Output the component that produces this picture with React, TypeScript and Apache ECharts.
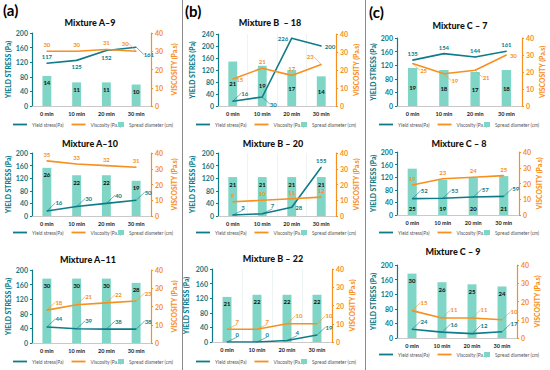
import { useEffect, useRef } from 'react';
import * as echarts from 'echarts';

const TIMES = ['0 min', '10 min', '20 min', '30 min'];
const NAME_YIELD = 'Yield stress(Pa)';
const NAME_VISC = 'Viscosity (Pa.s)';
const NAME_SPREAD = 'Spread diameter (cm)';

const A9_YIELD = [117, 125, 152, 161];
const A9_VISC = [30, 30, 31, 30];
const A9_SPREAD = [14, 11, 11, 10];

const A10_YIELD = [16, 30, 40, 50];
const A10_VISC = [35, 33, 32, 31];
const A10_SPREAD = [26, 22, 22, 19];

const A11_YIELD = [44, 39, 38, 38];
const A11_VISC = [18, 21, 22, 23];
const A11_SPREAD = [30, 30, 30, 28];

const B18_YIELD = [16, 30, 226, 200];
const B18_VISC = [15, 21, 17, 23];
const B18_SPREAD = [21, 19, 17, 14];

const B20_YIELD = [3, 7, 28, 155];
const B20_VISC = [9, 10, 11, 12];
const B20_SPREAD = [21, 21, 21, 21];

const B22_YIELD = [0, 0, 4, 19];
const B22_VISC = [7, 7, 10, 10];
const B22_SPREAD = [21, 22, 22, 22];

const C7_YIELD = [135, 154, 144, 161];
const C7_VISC = [25, 19, 21, 30];
const C7_SPREAD = [19, 18, 17, 18];

const C8_YIELD = [52, 53, 57, 59];
const C8_VISC = [19, 23, 24, 25];
const C8_SPREAD = [25, 19, 20, 21];

const C9_YIELD = [24, 16, 12, 17];
const C9_VISC = [15, 11, 11, 10];
const C9_SPREAD = [30, 26, 25, 24];

const VISC_MAX = 40;
const SPREAD_AXIS_MAX = 34;

const TEAL = '#0f7b88';
const ORANGE = '#f7901e';
const BAR = '#80d6c6';
const FONT = 'Lato, "Open Sans", sans-serif';

type Mode = 't' | 'b' | 'r' | 'l' | 'ur' | 'dr' | 'ul';
const LAB: Record<Mode, { position: string; dx: number; dy: number; line: boolean }> = {
  t: { position: 'top', dx: 0, dy: 0, line: false },
  b: { position: 'bottom', dx: 0, dy: 0, line: false },
  r: { position: 'right', dx: 0, dy: 0, line: false },
  l: { position: 'left', dx: 0, dy: 0, line: false },
  ur: { position: 'right', dx: 5, dy: -8, line: true },
  dr: { position: 'right', dx: 4, dy: 7, line: true },
  ul: { position: 'left', dx: -4, dy: -8, line: true },
};

type Panel = {
  title: string; yv: number[]; vv: number[]; sv: number[]; yMax: number;
  g: [number, number, number, number]; tx: number; ty: number;
  lx: number; ly: number; yl: Mode[]; vl: Mode[]; bp: string; col: number;
};

const PANELS: Panel[] = [
  { title: 'Mixture A–9', yv: A9_YIELD, vv: A9_VISC, sv: A9_SPREAD, yMax: 200, g: [32, 33, 119, 73], tx: 90, ty: 18, lx: 13, ly: 125, yl: ['t', 'b', 'b', 'dr'], vl: ['t', 't', 't', 'ul'], bp: 'insideTop', col: 0 },
  { title: 'Mixture A–10', yv: A10_YIELD, vv: A10_VISC, sv: A10_SPREAD, yMax: 200, g: [32, 153, 119, 63], tx: 90, ty: 139, lx: 13, ly: 233, yl: ['ur', 'ur', 'ur', 'ur'], vl: ['t', 't', 't', 't'], bp: 'insideTop', col: 0 },
  { title: 'Mixture A–11', yv: A11_YIELD, vv: A11_VISC, sv: A11_SPREAD, yMax: 200, g: [32, 270, 119, 73], tx: 88, ty: 255, lx: 13, ly: 362, yl: ['ur', 'ur', 'ur', 'ur'], vl: ['ur', 'ur', 'ur', 'ur'], bp: 'insideTop', col: 0 },
  { title: 'Mixture B  – 18', yv: B18_YIELD, vv: B18_VISC, sv: B18_SPREAD, yMax: 240, g: [218, 34, 118, 72], tx: 270, ty: 18, lx: 196, ly: 125, yl: ['ur', 'dr', 'l', 'r'], vl: ['r', 't', 't', 'ul'], bp: 'inside', col: 1 },
  { title: 'Mixture B – 20', yv: B20_YIELD, vv: B20_VISC, sv: B20_SPREAD, yMax: 200, g: [218, 153, 118, 63], tx: 273, ty: 139, lx: 196, ly: 233, yl: ['ur', 'ur', 'r', 't'], vl: ['t', 't', 't', 't'], bp: 'insideTop', col: 1 },
  { title: 'Mixture B – 22', yv: B22_YIELD, vv: B22_VISC, sv: B22_SPREAD, yMax: 200, g: [212, 269, 120, 73], tx: 273, ty: 254, lx: 196, ly: 362, yl: ['ur', 'ur', 'ur', 'ur'], vl: ['ur', 'ur', 'ur', 'ur'], bp: 'insideTop', col: 1 },
  { title: 'Mixture C – 7', yv: C7_YIELD, vv: C7_VISC, sv: C7_SPREAD, yMax: 200, g: [397, 38, 125, 68], tx: 460, ty: 21, lx: 379, ly: 125, yl: ['t', 't', 't', 't'], vl: ['dr', 'dr', 'dr', 'r'], bp: 'inside', col: 2 },
  { title: 'Mixture C – 8', yv: C8_YIELD, vv: C8_VISC, sv: C8_SPREAD, yMax: 200, g: [397, 152, 122, 63], tx: 459, ty: 139, lx: 379, ly: 233, yl: ['ur', 'ur', 'ur', 'ur'], vl: ['t', 't', 't', 't'], bp: 'insideBottom', col: 2 },
  { title: 'Mixture C – 9', yv: C9_YIELD, vv: C9_VISC, sv: C9_SPREAD, yMax: 200, g: [397, 265, 120, 73], tx: 453, ty: 247, lx: 379, ly: 355, yl: ['ur', 'ur', 'ur', 'ur'], vl: ['ur', 'ur', 'ur', 'ur'], bp: 'insideTop', col: 2 },
];

function lineSeries(name: string, vals: number[], modes: Mode[], color: string, xi: number, yi: number) {
  return {
    type: 'line', name, xAxisIndex: xi, yAxisIndex: yi,
    symbol: 'circle', symbolSize: 1, showSymbol: true,
    lineStyle: { color, width: 1.6 }, itemStyle: { color },
    data: vals.map((v, k) => ({
      value: v,
      label: { position: LAB[modes[k]].position },
      labelLine: { show: LAB[modes[k]].line },
    })),
    label: { show: true, color, fontSize: 6, fontWeight: 'bold', fontFamily: FONT, distance: 3 },
    labelLine: { show: false, lineStyle: { color, width: 0.6 } },
    labelLayout: (p: any) => ({ dx: LAB[modes[p.dataIndex]].dx, dy: LAB[modes[p.dataIndex]].dy }),
    z: 3,
  };
}

function buildOption() {
  const grid: any[] = [], xAxis: any[] = [], yAxis: any[] = [], series: any[] = [], title: any[] = [], legend: any[] = [];
  PANELS.forEach((p, i) => {
    grid.push({ left: p.g[0], top: p.g[1], width: p.g[2], height: p.g[3] });
    title.push({ text: p.title, left: p.tx, top: p.ty, textAlign: 'center', textStyle: { fontSize: 9, fontWeight: 900, color: '#111', fontFamily: FONT }, padding: 0 });
    xAxis.push({
      type: 'category', gridIndex: i, data: TIMES,
      axisTick: { show: false },
      axisLine: { lineStyle: { color: '#bbb', width: 0.8 } },
      axisLabel: { fontSize: 5.5, fontWeight: 'bold', color: '#222', margin: 5, fontFamily: FONT },
      splitLine: { show: p.col === 1, lineStyle: { color: '#e3eced', width: 0.6 } },
    });
    const leftGap = p.col === 0 ? 21 : p.col === 1 ? 23 : 21;
    const rightGap = p.col === 0 ? 19 : 16;
    yAxis.push({
      type: 'value', gridIndex: i, min: 0, max: p.yMax, interval: 40, position: 'left',
      name: 'YIELD STRESS (Pa)', nameLocation: 'middle', nameGap: leftGap, nameRotate: 90,
      nameTextStyle: { color: TEAL, fontSize: 6.8, fontWeight: 900, fontFamily: FONT },
      axisLine: { show: true, lineStyle: { color: TEAL, width: 1.2 } },
      axisTick: { show: true, length: 2, lineStyle: { color: TEAL } },
      axisLabel: { color: TEAL, fontSize: 7, fontWeight: 'bold', margin: 4, fontFamily: FONT },
      splitLine: { show: false },
    });
    yAxis.push({
      type: 'value', gridIndex: i, min: 0, max: VISC_MAX, interval: 10, position: 'right',
      name: 'VISCOSITY (Pa.s)', nameLocation: 'middle', nameGap: rightGap, nameRotate: 90,
      nameTextStyle: { color: ORANGE, fontSize: 6.8, fontWeight: 900, fontFamily: FONT },
      axisLine: { show: true, lineStyle: { color: ORANGE, width: 1.2 } },
      axisTick: { show: true, length: 2, lineStyle: { color: ORANGE } },
      axisLabel: { color: ORANGE, fontSize: 7, fontWeight: 'bold', margin: 4, fontFamily: FONT },
      splitLine: { show: false },
    });
    yAxis.push({ type: 'value', gridIndex: i, min: 0, max: SPREAD_AXIS_MAX, show: false, splitLine: { show: false } });

    series.push({
      type: 'bar', name: NAME_SPREAD, xAxisIndex: i, yAxisIndex: 3 * i + 2, data: p.sv,
      barWidth: '30%', itemStyle: { color: BAR }, z: 1,
      label: { show: true, position: p.bp, color: '#111', fontWeight: 'bold', fontSize: 6, fontFamily: FONT, distance: 4 },
    });
    series.push(lineSeries(NAME_YIELD, p.yv, p.yl, TEAL, i, 3 * i));
    series.push(lineSeries(NAME_VISC, p.vv, p.vl, ORANGE, i, 3 * i + 1));

    const ts = { fontSize: 4.8, color: '#555', fontFamily: FONT };
    legend.push({
      data: [NAME_YIELD, NAME_VISC], left: p.lx, top: p.ly - 3, icon: 'rect', itemWidth: 14, itemHeight: 1.8,
      itemGap: 8, padding: 0, textStyle: ts, selectedMode: false,
    });
    legend.push({
      data: [NAME_SPREAD], left: p.lx + 105, top: p.ly - 3, icon: 'rect', itemWidth: 6, itemHeight: 5,
      padding: 0, textStyle: ts, selectedMode: false, itemGap: 4,
    });
  });

  const graphic: any[] = [
    { type: 'line', shape: { x1: 182.5, y1: 0, x2: 182.5, y2: 370 }, style: { stroke: '#8a8a8a', lineWidth: 1 } },
    { type: 'line', shape: { x1: 365.5, y1: 0, x2: 365.5, y2: 370 }, style: { stroke: '#8a8a8a', lineWidth: 1 } },
    { type: 'text', left: 3, top: 2, style: { text: '(a)', fontSize: 15, fontWeight: 'bold', fill: '#000', fontFamily: FONT } },
    { type: 'text', left: 185, top: 3, style: { text: '(b)', fontSize: 15, fontWeight: 'bold', fill: '#000', fontFamily: FONT } },
    { type: 'text', left: 369, top: 4, style: { text: '(c)', fontSize: 15, fontWeight: 'bold', fill: '#000', fontFamily: FONT } },
  ];

  return { animation: false, backgroundColor: '#fff', textStyle: { fontFamily: FONT }, grid, xAxis, yAxis, series, title, legend, graphic };
}

export default function App() {
  const ref = useRef<HTMLDivElement>(null);
  useEffect(() => {
    if (!ref.current) return;
    const chart = echarts.init(ref.current, undefined, { renderer: 'svg' });
    chart.setOption(buildOption() as any);
    return () => chart.dispose();
  }, []);
  return <div ref={ref} style={{ position: 'fixed', left: 0, top: 0, width: 550, height: 370 }} />;
}
